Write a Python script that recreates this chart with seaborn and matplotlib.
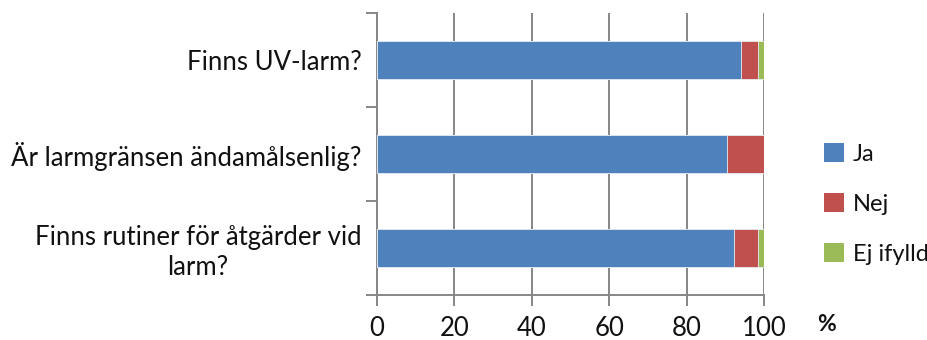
import matplotlib
matplotlib.use("Agg")
import matplotlib.pyplot as plt
from matplotlib.patches import Patch
import numpy as np
import pandas as pd
import seaborn as sns

questions = ["Finns UV-larm?", "Är larmgränsen ändamålsenlig?",
             "Finns rutiner för åtgärder vid\nlarm?"]
ja = [94.1, 90.5, 92.2]
nej = [4.4, 9.5, 6.3]
ej_ifylld = [1.5, 0.0, 1.5]
series_names = ["Ja", "Nej", "Ej ifylld"]
colors = ["#4F81BD", "#C0504D", "#9BBB59"]
x_ticks = [0, 20, 40, 60, 80, 100]

sns.set_theme(style="white")
plt.rcParams["font.family"] = ["Lato", "DejaVu Sans"]
FS = 18.5
grid_col = "#868686"

df = pd.DataFrame({"q": questions, "Ja": ja, "Nej": nej, "Ej ifylld": ej_ifylld})
df["c1"] = df["Ja"]
df["c2"] = df["Ja"] + df["Nej"]
df["c3"] = df["c2"] + df["Ej ifylld"]

fig = plt.figure(figsize=(9.27, 3.40), dpi=100)
ax = fig.add_axes([0.4064, 0.1324, 0.8242 - 0.4064, 0.9618 - 0.1324])

# stacked bars drawn as cumulative totals, back to front
for col, c in zip(["c3", "c2", "c1"], colors[::-1]):
    sns.barplot(data=df, x=col, y="q", orient="h", color=c, width=0.4,
                saturation=1, edgecolor="#E8EEF6", linewidth=0.6, ax=ax, zorder=3)

ax.set_xlim(0, 100)
ax.set_ylim(2.5, -0.5)
ax.set_xticks(x_ticks)
ax.set_xticklabels([str(t) for t in x_ticks], fontsize=FS, color="#111111")
ax.set_xlabel("")
ax.set_ylabel("")
ax.xaxis.grid(True, color=grid_col, linewidth=1.4, zorder=0)
ax.set_axisbelow(True)

ax.set_yticks([0, 1, 2])
ax.set_yticklabels(questions, fontsize=FS, multialignment="center", color="#111111",
                   linespacing=1.25)
ax.set_yticks([-0.5, 0.5, 1.5, 2.5], minor=True)
ax.tick_params(axis="y", which="major", length=0, pad=11)
ax.tick_params(axis="y", which="minor", length=8, width=1.4, color=grid_col, left=True)
ax.tick_params(axis="x", which="major", length=8, width=1.4, color=grid_col,
               bottom=True, pad=7)

for side in ["top", "right"]:
    ax.spines[side].set_visible(False)
for side in ["left", "bottom"]:
    ax.spines[side].set_color(grid_col)
    ax.spines[side].set_linewidth(1.4)

handles = [Patch(facecolor=c, edgecolor="none") for c in colors]
fig.legend(handles, series_names, loc="center left", bbox_to_anchor=(0.874, 0.40),
           frameon=False, fontsize=17, handlelength=0.85, handleheight=0.85,
           handletextpad=0.35, labelspacing=1.2, labelcolor="#111111",
           borderaxespad=0.2)

fig.text(0.892, 0.045, "%", fontsize=FS - 2, fontweight="bold", ha="center", va="center",
         color="#111111")

fig.savefig("out.png", dpi=100)
